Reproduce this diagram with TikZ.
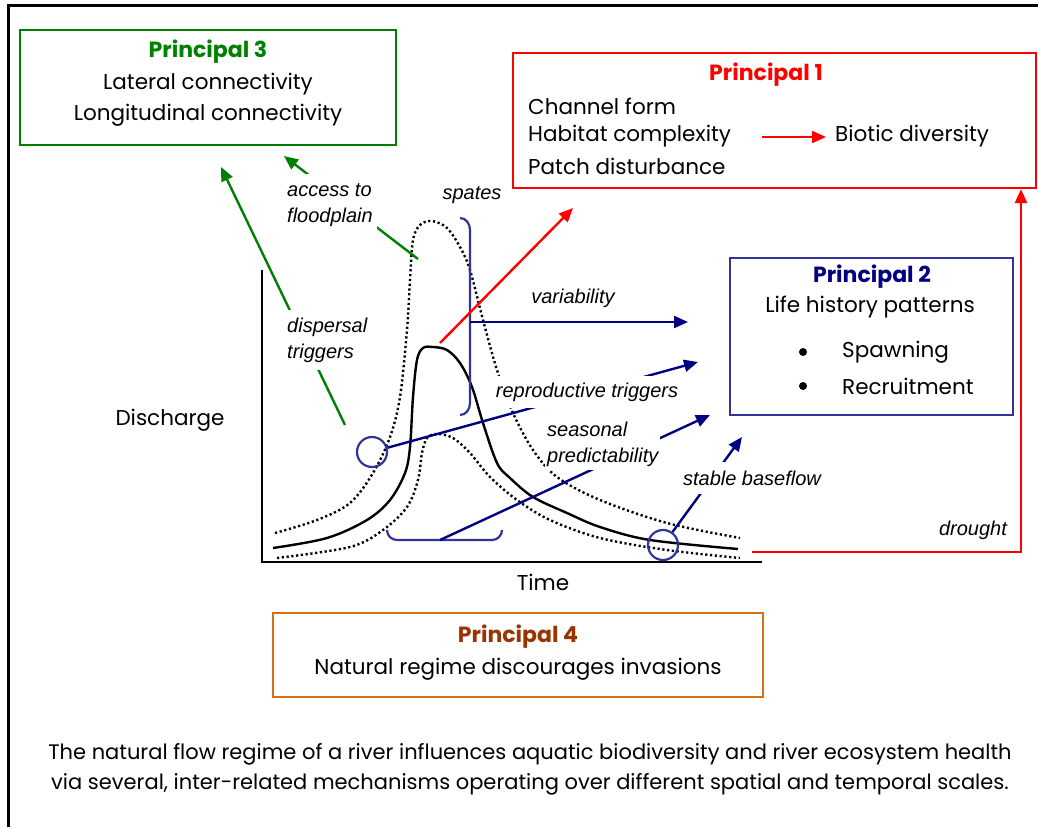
\documentclass[tikz,border=0pt]{standalone}
\usepackage{fontspec}
\setmainfont{Poppins}
\newfontfamily\labfont{Liberation Sans}
\usetikzlibrary{arrows.meta}

\definecolor{pgreen}{RGB}{0,128,0}
\definecolor{pred}{RGB}{255,0,0}
\definecolor{pnavy}{RGB}{0,0,128}
\definecolor{pslate}{RGB}{51,51,153}
\definecolor{porange}{RGB}{214,112,24}
\definecolor{pbrown}{RGB}{153,51,0}

\tikzset{
  pbox/.style={draw, line width=2.2pt, inner sep=0pt},
  txt/.style={font=\fontsize{21.5}{30}\selectfont, inner sep=0pt},
  ttl/.style={font=\fontsize{22}{30}\selectfont\bfseries, inner sep=0pt},
  captext/.style={font=\fontsize{21}{30}\selectfont, inner sep=0pt, align=center},
  lab/.style={font=\labfont\itshape\fontsize{20}{26}\selectfont, fill=white, inner xsep=2pt, inner ysep=4pt},
  arr/.style={line width=2.4pt, -{Triangle[length=14pt,width=12pt]}},
  curve/.style={line width=2.4pt, line join=round},
  dots/.style={line width=2.4pt, dash pattern=on 2.2pt off 2.6pt},
  brk/.style={draw=pslate, line width=2.2pt},
  bul/.style={circle, fill, inner sep=0pt, minimum size=8pt},
}

\begin{document}
\begin{tikzpicture}[x=1pt,y=-1pt]
\useasboundingbox (0,0) rectangle (1038,827);

% page frame
\draw[line width=3pt] (1038,5) -- (8,5) -- (8,827);

% ---------- principle boxes ----------
\node[pbox, draw=pgreen, minimum width=376pt, minimum height=115pt] (p3) at (208,87.5) {};
\node[ttl, text=pgreen] (p3t) at (208,52) {Principal 3};
\node[txt] (p3a) at (208,84) {Lateral connectivity};
\node[txt] (p3b) at (208,115) {Longitudinal connectivity};

\node[pbox, draw=pred, minimum width=523pt, minimum height=135pt] (p1) at (774.5,120.5) {};
\node[ttl, text=pred] (p1t) at (766,75) {Principal 1};
\node[txt, anchor=west] (p1a) at (528,106) {Channel form};
\node[txt, anchor=west] (p1b) at (528,136) {Habitat complexity};
\node[txt, anchor=west] (p1c) at (528,166) {Patch disturbance};
\node[txt, anchor=west] (p1d) at (835,136) {Biotic diversity};
\coordinate (hc) at (762,137);
\coordinate (bd) at (826,137);
\draw[arr, pred, line width=2pt] (hc) -- (bd);

\node[pbox, draw=pslate, minimum width=283pt, minimum height=157pt] (p2) at (871.5,336.5) {};
\node[ttl, text=pnavy] (p2t) at (872,277) {Principal 2};
\node[txt] (p2a) at (870,307) {Life history patterns};
\node[bul] (b1) at (803,352) {};
\node[txt, anchor=west] (p2b) at (842,352) {Spawning};
\node[bul] (b2) at (803,386) {};
\node[txt, anchor=west] (p2c) at (842,386) {Recruitment};

\node[pbox, draw=porange, minimum width=490pt, minimum height=84pt] (p4) at (518,655) {};
\node[ttl, text=pbrown] (p4t) at (518,637) {Principal 4};
\node[txt] (p4a) at (518,669) {Natural regime discourages invasions};

\node[captext] (capt) at (530,769) {The natural flow regime of a river influences aquatic biodiversity and river ecosystem health\\via several, inter-related mechanisms operating over different spatial and temporal scales.};

% ---------- hydrograph axes ----------
\coordinate (ytop) at (262,270);
\coordinate (orig) at (262,562);
\coordinate (xend) at (762,562);
\draw[line width=2.4pt] (ytop) -- (orig) -- (xend);
\node[txt] (disc) at (170,420) {Discharge};
\node[txt] (time) at (543,582) {Time};

% mean hydrograph
\draw[curve] plot[smooth, tension=0.55] coordinates {
 (273,548) (327,538) (367,520) (390,500) (405,473) (410,447) (413,397)
 (417,360) (423,348) (433,347) (447,350) (460,363) (472,387) (483,423)
 (497,463) (510,478) (533,497) (567,513) (600,527) (650,540) (738,549)};
% upper envelope
\draw[dots] plot[smooth, tension=0.55] coordinates {
 (275,533) (317,520) (350,503) (373,473) (390,437) (400,397) (407,330)
 (410,280) (413,240) (420,225) (432,221) (447,228) (460,247) (470,270)
 (483,320) (497,370) (513,413) (533,450) (557,477) (600,500) (667,523) (740,538)};
% lower envelope
\draw[dots] plot[smooth, tension=0.55] coordinates {
 (277,558) (350,547) (383,530) (407,507) (418,480) (422,453) (427,438)
 (437,434) (453,438) (470,453) (490,477) (517,500) (550,520) (600,538)
 (667,550) (740,558)};

% brackets and circles
\draw[brk] (460,218) to[out=0,in=90] (470,230) -- (470,403) to[out=-90,in=0] (460,415);
\coordinate (spmid) at (470,322);
\draw[brk] (387,530) to[out=-90,in=180] (397,540) -- (492,540) to[out=0,in=-90] (502,530);
\coordinate (bmid) at (440,540);
\node[circle, draw=pslate, line width=2.2pt, minimum size=30pt, inner sep=0pt] (c1) at (372,452) {};
\node[circle, draw=pslate, line width=2.2pt, minimum size=30pt, inner sep=0pt] (c2) at (663,545) {};

% ---------- connectors ----------
\coordinate (dispA) at (345,425);
\coordinate (dispB) at (221,167);
\draw[arr, pgreen] (dispA) -- (dispB);
\coordinate (accA) at (418,259);
\coordinate (accB) at (284,156);
\draw[arr, pgreen] (accA) -- (accB);
\coordinate (peak) at (440,343);
\coordinate (spB) at (573,208);
\draw[arr, pred] (peak) -- (spB);
\coordinate (varB) at (688,322);
\draw[arr, pnavy] (spmid) -- (varB);
\coordinate (repB) at (698,362);
\draw[arr, pnavy] (c1) -- (repB);
\coordinate (seaB) at (710,415);
\draw[arr, pnavy] (bmid) -- (seaB);
\coordinate (baseB) at (742,437);
\draw[arr, pnavy] (c2) -- (baseB);
\coordinate (drA) at (752,552);
\coordinate (drC) at (1021,552);
\draw[arr, pred] (drA) -- (drC) -- (p1.south -| drC);

% ---------- labels ----------
\node[lab, align=left, anchor=west, inner xsep=4pt, inner ysep=9pt] (lacc) at (283,205) {access to\\floodplain};
\node[lab, fill=none] (lsp) at (472,195) {spates};
\node[lab, fill=none] (lvar) at (573,298) {variability};
\node[lab, align=left, anchor=west, inner ysep=8pt] (ldis) at (285,340) {dispersal\\triggers};
\node[lab, inner ysep=7pt] (lrep) at (587,392) {reproductive triggers};
\node[lab, align=left, anchor=west, inner ysep=4pt] (lsea) at (545,444) {seasonal\\predictability};
\node[lab, inner ysep=9pt] (lbas) at (752,478) {stable baseflow};
\node[lab, fill=none] (ldr) at (973,530) {drought};
\end{tikzpicture}
\end{document}
